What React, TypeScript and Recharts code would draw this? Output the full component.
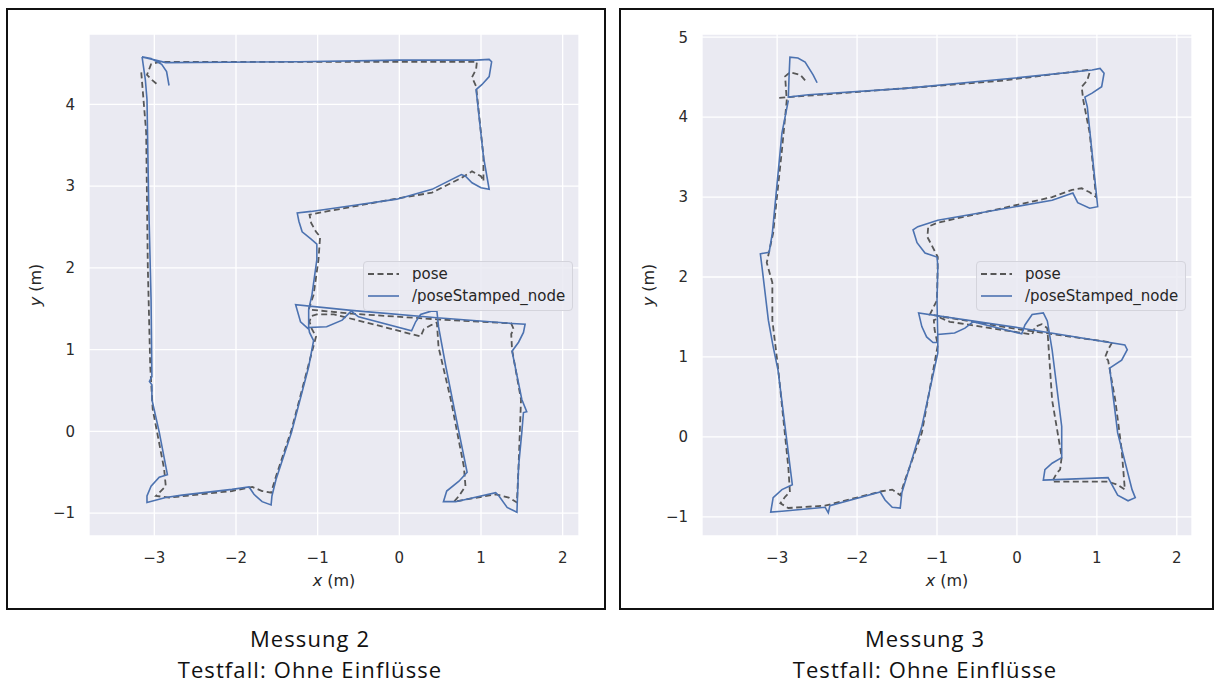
import React from 'react';
import { LineChart, Line, XAxis, YAxis, CartesianGrid, Legend } from 'recharts';

// trajectories, [x, y] in metres
const pose2: [number, number][] = [
  [-3.16, 4.39], [-3.1, 3.66], [-3.08, 2.02], [-3.05, 0.79], [-3.02, 0.27], [-2.88, -0.46], [-2.86, -0.67],
  [-2.92, -0.73], [-2.98, -0.79], [-2.82, -0.81], [-2.05, -0.73], [-1.8, -0.68], [-1.68, -0.73], [-1.57, -0.75],
  [-1.51, -0.55], [-1.32, 0.02], [-1.11, 0.82], [-1.02, 1.16], [-1.07, 1.25], [-1.1, 1.34], [-1.08, 1.41],
  [-1.01, 1.43], [-0.8, 1.43], [-0.28, 1.3], [0.26, 1.16], [0.3, 1.25], [0.39, 1.3], [0.46, 1.33], [0.48, 1.03],
  [0.63, 0.39], [0.79, -0.43], [0.81, -0.67], [0.73, -0.79], [0.67, -0.86], [1.18, -0.77], [1.34, -0.81],
  [1.44, -0.87], [1.46, -0.43], [1.49, 0.39], [1.38, 1.0], [1.37, 1.19], [1.4, 1.25], [1.37, 1.32], [0.46, 1.37],
  [-0.59, 1.44], [-1.11, 1.49], [-1.05, 1.67], [-0.99, 2.1], [-0.97, 2.38], [-1.02, 2.44], [-1.08, 2.55],
  [-1.1, 2.65], [-0.89, 2.69], [-0.07, 2.84], [0.4, 2.92], [0.76, 3.1], [0.89, 3.18], [1.0, 3.12], [1.03, 3.06],
  [1.03, 3.36], [0.94, 4.22], [0.89, 4.33], [0.94, 4.43], [0.95, 4.52], [-0.01, 4.52], [-1.23, 4.52],
  [-2.94, 4.52], [-3.04, 4.49], [-3.09, 4.36], [-3.03, 4.3], [-2.95, 4.23],
];

const node2: [number, number][] = [
  [-3.15, 4.58], [-3.11, 4.3], [-3.09, 4.06], [-3.07, 2.84], [-3.04, 1.61], [-3.03, 0.67], [-3.06, 0.61],
  [-3.03, 0.57], [-3.03, 0.39], [-2.94, -0.01], [-2.84, -0.53], [-2.94, -0.56], [-3.04, -0.67], [-3.09, -0.79],
  [-3.09, -0.87], [-2.86, -0.81], [-2.66, -0.78], [-2.05, -0.71], [-1.84, -0.68], [-1.78, -0.77], [-1.68, -0.86],
  [-1.57, -0.9], [-1.56, -0.79], [-1.51, -0.59], [-1.32, -0.01], [-1.11, 0.79], [-1.05, 1.11], [-1.1, 1.21],
  [-1.11, 1.27], [-0.89, 1.28], [-0.7, 1.36], [-0.59, 1.47], [-0.5, 1.4], [0.15, 1.23], [0.2, 1.34],
  [0.26, 1.43], [0.39, 1.47], [0.46, 1.47], [0.48, 1.28], [0.57, 0.79], [0.73, -0.01], [0.83, -0.5],
  [0.73, -0.61], [0.58, -0.73], [0.54, -0.86], [0.69, -0.86], [1.18, -0.75], [1.22, -0.79], [1.32, -0.93],
  [1.44, -0.99], [1.46, -0.43], [1.5, -0.01], [1.52, 0.23], [1.56, 0.24], [1.5, 0.39], [1.38, 0.98],
  [1.46, 1.09], [1.52, 1.21], [1.54, 1.31], [1.38, 1.32], [0.46, 1.39], [-0.59, 1.48], [-1.27, 1.55],
  [-1.21, 1.34], [-1.11, 1.25], [-1.11, 1.49], [-1.07, 1.67], [-1.01, 2.1], [-1.01, 2.29], [-1.08, 2.35],
  [-1.19, 2.44], [-1.23, 2.57], [-1.25, 2.67], [-1.08, 2.69], [-0.59, 2.76], [-0.03, 2.84], [0.4, 2.96],
  [0.76, 3.14], [0.81, 3.12], [0.89, 3.04], [1.0, 2.98], [1.1, 2.96], [1.03, 3.36], [0.94, 4.18], [1.01, 4.24],
  [1.1, 4.34], [1.13, 4.52], [1.1, 4.55], [0.94, 4.54], [-0.01, 4.54], [-1.23, 4.52], [-2.86, 4.51],
  [-3.15, 4.58], [-3.04, 4.56], [-2.91, 4.49], [-2.85, 4.4], [-2.82, 4.23],
];

const pose3: [number, number][] = [
  [-2.65, 4.46], [-2.71, 4.53], [-2.84, 4.56], [-2.9, 4.51], [-2.88, 4.21], [-2.94, 3.59], [-3.05, 2.55],
  [-3.13, 2.18], [-3.06, 1.93], [-3.06, 1.46], [-2.99, 0.88], [-2.86, -0.38], [-2.84, -0.69], [-2.9, -0.75],
  [-2.96, -0.83], [-2.86, -0.89], [-2.4, -0.86], [-1.69, -0.68], [-1.56, -0.66], [-1.46, -0.73], [-1.4, -0.54],
  [-1.19, 0.05], [-0.99, 1.15], [-1.03, 1.34], [-1.04, 1.46], [-0.96, 1.49], [-0.84, 1.44], [0.19, 1.28],
  [0.23, 1.38], [0.31, 1.41], [0.38, 1.36], [0.44, 0.46], [0.56, -0.25], [0.54, -0.41], [0.5, -0.45],
  [0.44, -0.56], [1.14, -0.56], [1.26, -0.6], [1.35, -0.66], [1.31, -0.16], [1.23, 0.46], [1.14, 0.96],
  [1.1, 0.99], [1.14, 1.09], [1.19, 1.18], [0.06, 1.34], [-1.09, 1.53], [-1.0, 1.71], [-0.99, 2.25],
  [-1.12, 2.5], [-1.11, 2.63], [-0.99, 2.68], [0.44, 3.0], [0.69, 3.09], [0.81, 3.11], [0.91, 3.06],
  [0.99, 3.0], [0.91, 3.8], [0.83, 4.21], [0.81, 4.38], [0.88, 4.46], [0.91, 4.56], [0.88, 4.59],
  [-0.15, 4.46], [-1.15, 4.38], [-2.99, 4.24],
];

const node3: [number, number][] = [
  [-2.86, 4.21], [-2.94, 3.8], [-3.06, 2.55], [-3.1, 2.31], [-3.21, 2.29], [-3.19, 2.13], [-3.11, 1.46],
  [-3.05, 1.13], [-2.99, 0.84], [-2.81, -0.6], [-2.94, -0.66], [-3.05, -0.76], [-3.08, -0.94], [-2.94, -0.93],
  [-2.4, -0.88], [-2.36, -0.95], [-2.34, -0.86], [-1.71, -0.69], [-1.65, -0.79], [-1.56, -0.88], [-1.46, -0.89],
  [-1.44, -0.7], [-1.19, 0.13], [-0.99, 1.05], [-0.99, 1.28], [-0.78, 1.3], [-0.65, 1.36], [-0.55, 1.44],
  [0.06, 1.29], [0.1, 1.4], [0.19, 1.53], [0.33, 1.55], [0.38, 1.45], [0.44, 1.09], [0.56, 0.13],
  [0.56, -0.26], [0.44, -0.33], [0.35, -0.41], [0.33, -0.54], [1.14, -0.51], [1.26, -0.73], [1.39, -0.8],
  [1.48, -0.76], [1.44, -0.66], [1.26, 0.05], [1.16, 0.86], [1.31, 0.96], [1.38, 1.09], [1.35, 1.15],
  [0.06, 1.36], [-1.23, 1.55], [-1.19, 1.38], [-1.13, 1.25], [-1.05, 1.18], [-0.99, 1.18], [-1.0, 1.71],
  [-0.99, 2.13], [-1.0, 2.25], [-1.15, 2.3], [-1.25, 2.43], [-1.3, 2.59], [-1.24, 2.63], [-0.99, 2.71],
  [0.44, 2.96], [0.7, 3.05], [0.76, 2.93], [0.91, 2.86], [1.01, 2.88], [0.88, 4.13], [0.85, 4.25],
  [0.94, 4.3], [1.06, 4.38], [1.09, 4.55], [1.04, 4.61], [0.94, 4.59], [-0.02, 4.49], [-1.4, 4.36],
  [-2.61, 4.28], [-2.86, 4.25], [-2.85, 4.53], [-2.84, 4.75], [-2.74, 4.74], [-2.65, 4.69], [-2.55, 4.53],
  [-2.5, 4.43],
];

const xTicks = [-3, -2, -1, 0, 1, 2];
const yTicks2 = [-1, 0, 1, 2, 3, 4];
const yTicks3 = [-1, 0, 1, 2, 3, 4, 5];
const seriesNames = ['pose', '/poseStamped_node'];
const captionTitles = ['Messung 2', 'Messung 3'];
const captionSub = 'Testfall: Ohne Einflüsse';

const FONT = '"DejaVu Sans", sans-serif';
const POSE_COLOR = '#575757';
const NODE_COLOR = '#4C72B0';
const DASH = '6 3.5';

const toPts = (arr: [number, number][]) => arr.map(([x, y]) => ({ x, y }));
const fmt = (v: number) => (v < 0 ? `\u2212${Math.abs(v)}` : `${v}`);

const LegendBox = () => (
  <div
    style={{
      width: 210,
      height: 50,
      boxSizing: 'border-box',
      background: 'rgba(234,234,242,0.85)',
      border: '1px solid #d4d4dc',
      borderRadius: 4,
      fontFamily: FONT,
      fontSize: 15,
      color: '#262626',
      padding: '1px 0 0 4px',
    }}
  >
    {seriesNames.map((name, i) => (
      <div key={name} style={{ display: 'flex', alignItems: 'center', height: 22 }}>
        <svg width={31} height={10} style={{ marginRight: 13 }}>
          <line
            x1={0}
            y1={5}
            x2={31}
            y2={5}
            stroke={i === 0 ? POSE_COLOR : NODE_COLOR}
            strokeWidth={i === 0 ? 1.8 : 1.6}
            strokeDasharray={i === 0 ? DASH : undefined}
          />
        </svg>
        <span>{name}</span>
      </div>
    ))}
  </div>
);

interface PanelProps {
  left: number;
  width: number;
  plotLeft: number;
  plotRight: number;
  xDomain: [number, number];
  yDomain: [number, number];
  yTicks: number[];
  pose: [number, number][];
  node: [number, number][];
  legendLeft: number;
}

const Panel: React.FC<PanelProps> = ({ left, width, plotLeft, plotRight, xDomain, yDomain, yTicks, pose, node, legendLeft }) => {
  const yAxisW = 60;
  const tick = { fontSize: 15, fill: '#2b2b2b', fontFamily: FONT };
  return (
    <div style={{ position: 'absolute', left, top: 0 }}>
      <LineChart
        width={width}
        height={610}
        margin={{ top: 34, right: width - plotRight, bottom: 34, left: plotLeft - yAxisW }}
      >
        <CartesianGrid fill="#EAEAF2" stroke="#ffffff" strokeWidth={1.3} />
        <XAxis
          type="number"
          dataKey="x"
          domain={xDomain}
          ticks={xTicks}
          allowDataOverflow
          interval={0}
          axisLine={false}
          tickLine={false}
          tickMargin={10}
          tickFormatter={fmt}
          tick={tick}
          height={40}
        />
        <YAxis
          type="number"
          domain={yDomain}
          ticks={yTicks}
          allowDataOverflow
          interval={0}
          axisLine={false}
          tickLine={false}
          tickMargin={8}
          tickFormatter={fmt}
          tick={tick}
          width={yAxisW}
        />
        <Line
          data={toPts(pose)}
          dataKey="y"
          name={seriesNames[0]}
          type="linear"
          stroke={POSE_COLOR}
          strokeWidth={1.8}
          strokeDasharray={DASH}
          dot={false}
          activeDot={false}
          isAnimationActive={false}
        />
        <Line
          data={toPts(node)}
          dataKey="y"
          name={seriesNames[1]}
          type="linear"
          stroke={NODE_COLOR}
          strokeWidth={1.6}
          dot={false}
          activeDot={false}
          isAnimationActive={false}
        />
        <Legend
          layout="vertical"
          align="center"
          verticalAlign="middle"
          wrapperStyle={{ left: legendLeft, top: 261, width: 210, height: 50 }}
          content={() => <LegendBox />}
        />
      </LineChart>
    </div>
  );
};

const axisTitle: React.CSSProperties = {
  position: 'absolute',
  fontFamily: FONT,
  fontSize: 16,
  color: '#262626',
  whiteSpace: 'nowrap',
};

const captionLine: React.CSSProperties = {
  position: 'absolute',
  width: 360,
  textAlign: 'center',
  fontFamily: '"Open Sans", sans-serif',
  fontSize: 22,
  letterSpacing: 1.1,
  lineHeight: '22px',
  height: 22,
  color: '#111',
  whiteSpace: 'nowrap',
};

const Caption = ({ cx, title }: { cx: number; title: string }) => (
  <>
    <div style={{ ...captionLine, left: cx - 180, top: 627 }}>{title}</div>
    <div style={{ ...captionLine, left: cx - 180, top: 658 }}>{captionSub}</div>
  </>
);

export default function App() {
  return (
    <div style={{ position: 'absolute', left: 0, top: 0, width: 1214, height: 685, background: '#fff', overflow: 'hidden' }}>
      <div style={{ position: 'absolute', left: 6, top: 8, width: 600, height: 602, border: '2px solid #111', boxSizing: 'border-box' }} />
      <div style={{ position: 'absolute', left: 619, top: 8, width: 595, height: 602, border: '2px solid #111', boxSizing: 'border-box' }} />

      <Panel
        left={0}
        width={610}
        plotLeft={89}
        plotRight={579}
        xDomain={[-3.8, 2.2]}
        yDomain={[-1.28, 4.86]}
        yTicks={yTicks2}
        pose={pose2}
        node={node2}
        legendLeft={363}
      />
      <Panel
        left={615}
        width={599}
        plotLeft={87}
        plotRight={577}
        xDomain={[-3.94, 2.19]}
        yDomain={[-1.24, 5.04]}
        yTicks={yTicks3}
        pose={pose3}
        node={node3}
        legendLeft={361}
      />

      <div style={{ ...axisTitle, left: 334, top: 580, transform: 'translate(-50%, -50%)' }}>
        <i>x</i> (m)
      </div>
      <div style={{ ...axisTitle, left: 35, top: 285, transform: 'translate(-50%, -50%) rotate(-90deg)' }}>
        <i>y</i> (m)
      </div>
      <div style={{ ...axisTitle, left: 947, top: 580, transform: 'translate(-50%, -50%)' }}>
        <i>x</i> (m)
      </div>
      <div style={{ ...axisTitle, left: 648, top: 285, transform: 'translate(-50%, -50%) rotate(-90deg)' }}>
        <i>y</i> (m)
      </div>

      <Caption cx={310} title={captionTitles[0]} />
      <Caption cx={925} title={captionTitles[1]} />
    </div>
  );
}
